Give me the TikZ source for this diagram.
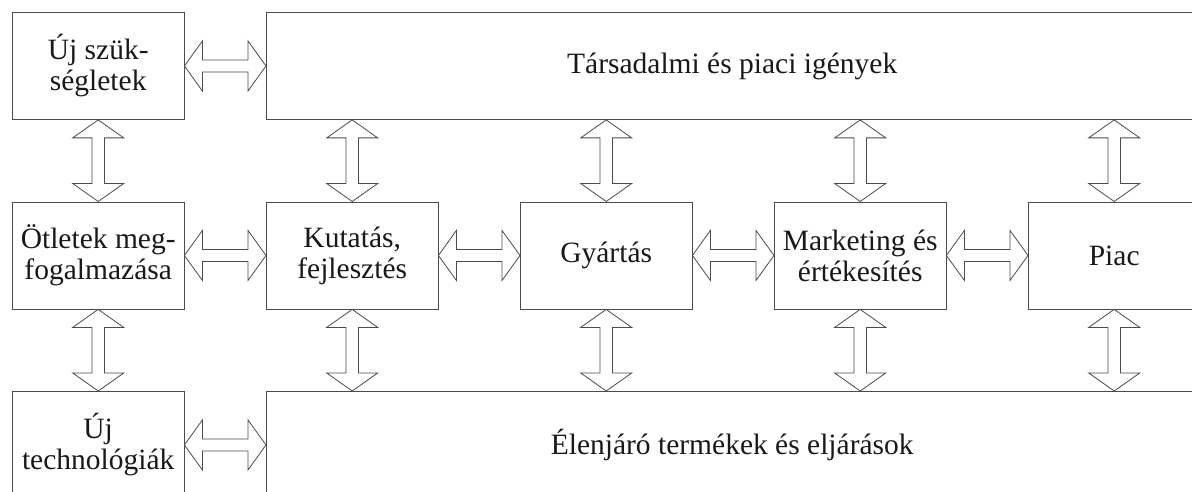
\documentclass[tikz,border=0pt]{standalone}
\usepackage{fontspec}
\setmainfont{Liberation Serif}
\usetikzlibrary{calc}
\definecolor{linec}{gray}{0.3}
\definecolor{textc}{gray}{0.1}
\tikzset{
  box/.style={draw=linec, line width=0.9pt, anchor=north west, minimum width=171.5pt, minimum height=107pt, inner sep=0pt, align=center, text=textc, font=\fontsize{29.5}{31}\selectfont},
  bigbox/.style={box, minimum width=931.5pt},
  blockarr/.style={draw=linec, line width=0.8pt, fill=white, line join=miter}
}
\newcommand\myharrow[2]{\draw[blockarr] (#1) -- ++(18,-25) -- ++(0,19) -- ($(#2)+(-18,-6)$) -- ++(0,-19) -- (#2) -- ++(-18,25) -- ++(0,-19) -- ($(#1)+(18,6)$) -- ++(0,19) -- cycle;}
\newcommand\myvarrow[2]{\draw[blockarr] (#1) -- ++(-25.5,18) -- ++(19.2,0) -- ($(#2)+(-6.3,-18)$) -- ++(-19.2,0) -- (#2) -- ++(25.5,-18) -- ++(-19.2,0) -- ($(#1)+(6.3,18)$) -- ++(19.2,0) -- cycle;}
\begin{document}
\begin{tikzpicture}[x=1pt,y=-1pt]
\useasboundingbox (0,0) rectangle (1192,492);
\clip (0,0) rectangle (1192,492);
% top row
\node[box] (uj) at (12,12) {Új szük-\\ségletek};
\node[bigbox] (tars) at (266,12) {Társadalmi és piaci igények};
% middle row
\node[box] (otl) at (12,201.5) {Ötletek meg-\\fogalmazása};
\node[box] (kut) at (266,201.5) {Kutatás,\\fejlesztés};
\node[box] (gyar) at (520,201.5) {Gyártás};
\node[box] (mark) at (774,201.5) {Marketing és\\értékesítés};
\node[box] (piac) at (1028,201.5) {Piac};
% bottom row
\node[box] (tech) at (12,391) {Új\\technológiák};
\node[bigbox] (elen) at (266,391) {Élenjáró termékek és eljárások};
% horizontal arrows
\myharrow{uj.east}{tars.west}
\myharrow{otl.east}{kut.west}
\myharrow{kut.east}{gyar.west}
\myharrow{gyar.east}{mark.west}
\myharrow{mark.east}{piac.west}
\myharrow{tech.east}{elen.west}
% vertical arrows
\myvarrow{uj.south}{otl.north}
\myvarrow{otl.south}{tech.north}
\coordinate (t1) at (kut.north |- tars.south);
\coordinate (t2) at (gyar.north |- tars.south);
\coordinate (t3) at (mark.north |- tars.south);
\coordinate (t4) at (piac.north |- tars.south);
\coordinate (b1) at (kut.south |- elen.north);
\coordinate (b2) at (gyar.south |- elen.north);
\coordinate (b3) at (mark.south |- elen.north);
\coordinate (b4) at (piac.south |- elen.north);
\myvarrow{t1}{kut.north}
\myvarrow{t2}{gyar.north}
\myvarrow{t3}{mark.north}
\myvarrow{t4}{piac.north}
\myvarrow{kut.south}{b1}
\myvarrow{gyar.south}{b2}
\myvarrow{mark.south}{b3}
\myvarrow{piac.south}{b4}
\end{tikzpicture}
\end{document}
